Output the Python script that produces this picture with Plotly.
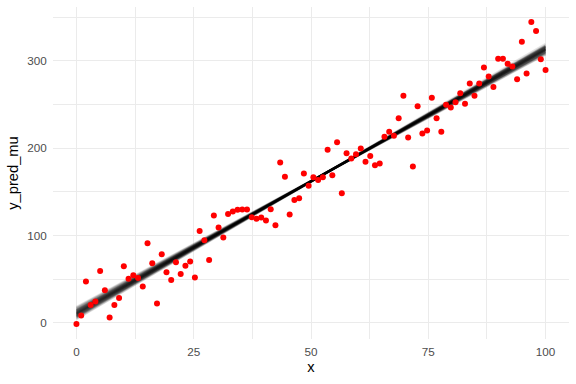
import plotly.graph_objects as go

# Observed data (x spaced evenly 0..100, 100 points)
x_vals = [0.0, 1.01, 2.02, 3.03, 4.04, 5.05, 6.06, 7.07, 8.08, 9.09,
          10.1, 11.11, 12.12, 13.13, 14.14, 15.15, 16.16, 17.17, 18.18, 19.19,
          20.2, 21.21, 22.22, 23.23, 24.24, 25.25, 26.26, 27.27, 28.28, 29.29,
          30.3, 31.31, 32.32, 33.33, 34.34, 35.35, 36.36, 37.37, 38.38, 39.39,
          40.4, 41.41, 42.42, 43.43, 44.44, 45.45, 46.46, 47.47, 48.48, 49.49,
          50.51, 51.52, 52.53, 53.54, 54.55, 55.56, 56.57, 57.58, 58.59, 59.6,
          60.61, 61.62, 62.63, 63.64, 64.65, 65.66, 66.67, 67.68, 68.69, 69.7,
          70.71, 71.72, 72.73, 73.74, 74.75, 75.76, 76.77, 77.78, 78.79, 79.8,
          80.81, 81.82, 82.83, 83.84, 84.85, 85.86, 86.87, 87.88, 88.89, 89.9,
          90.91, 91.92, 92.93, 93.94, 94.95, 95.96, 96.97, 97.98, 98.99, 100.0]
y_vals = [-1.1, 8.4, 47.3, 20.6, 24.4, 59.5, 37.4, 6.1, 20.6, 28.6,
          64.9, 50.7, 54.6, 51.5, 41.6, 91.2, 68.3, 22.1, 78.7, 58.0,
          49.2, 69.5, 56.1, 65.3, 70.2, 51.9, 105.3, 94.7, 72.1, 122.9,
          109.1, 97.7, 124.8, 127.5, 129.4, 129.8, 129.8, 121.0, 119.1, 120.6,
          117.2, 130.2, 111.9, 183.6, 167.2, 124.0, 140.8, 142.8, 171.0, 156.9,
          166.8, 163.7, 166.8, 198.1, 169.1, 206.9, 148.5, 194.3, 188.2, 193.2,
          199.6, 184.4, 191.2, 180.6, 182.4, 213.0, 218.7, 214.1, 234.4, 259.9,
          212.2, 179.0, 248.1, 216.8, 220.2, 257.6, 234.4, 218.7, 249.6, 246.5,
          252.7, 263.0, 250.8, 274.0, 259.9, 274.0, 292.3, 282.1, 269.9, 302.3,
          302.3, 296.6, 293.5, 279.0, 321.8, 285.5, 344.3, 334.2, 301.9, 289.4]

# Posterior draws of the regression line (intercept, slope)
intercepts = [11.2, 7.9, 14.6, 10.1, 13.0, 9.0, 16.2, 6.5, 12.0, 10.7,
              14.9, 5.8, 12.5, 9.6, 13.9, 7.4, 10.4, 17.3, 11.6, 8.5,
              13.4, 6.9, 15.6, 10.9, 11.1, 8.2, 14.2, 9.3, 12.2, 5.0,
              16.9, 10.3, 12.0, 7.7, 15.1, 8.8, 12.8, 10.6, 13.6, 6.7,
              18.2, 4.4, 11.4, 9.8, 14.0, 8.0]
slopes = [3.016, 3.08, 2.955, 3.04, 2.985, 3.055, 2.925, 3.10, 3.005, 3.025,
          2.945, 3.115, 2.995, 3.05, 2.965, 3.09, 3.03, 2.905, 3.01, 3.07,
          2.975, 3.10, 2.935, 3.025, 3.015, 3.075, 2.96, 3.05, 3.0, 3.13,
          2.91, 3.035, 3.0, 3.085, 2.945, 3.065, 2.99, 3.03, 2.97, 3.10,
          2.89, 3.15, 3.015, 3.04, 2.96, 3.075]

x_ticks = [0, 25, 50, 75, 100]
y_ticks = [0, 100, 200, 300]

fig = go.Figure()
x_lo, x_hi = min(x_vals), max(x_vals)
for a, b in zip(intercepts, slopes):
    fig.add_trace(go.Scatter(
        x=[x_lo, x_hi], y=[a + b * x_lo, a + b * x_hi],
        mode="lines", line=dict(color="black", width=2.2),
        opacity=0.1, showlegend=False, hoverinfo="skip"))

fig.add_trace(go.Scatter(
    x=x_vals, y=y_vals, mode="markers",
    marker=dict(color="#FF0000", size=6, line=dict(width=0)),
    showlegend=False))

font_fam = "Liberation Sans, Arial, sans-serif"
fig.update_layout(
    width=576, height=384,
    margin=dict(l=53, r=7, t=7, b=45),
    plot_bgcolor="white", paper_bgcolor="white",
    font=dict(family=font_fam, color="#4D4D4D", size=11.7),
    xaxis=dict(
        range=[-5, 105], tickvals=x_ticks, ticktext=[str(v) for v in x_ticks],
        showgrid=True, gridcolor="#EBEBEB", gridwidth=1.1, zeroline=False,
        showline=False, ticks="outside", ticklen=2, tickcolor="rgba(0,0,0,0)",
        tickfont=dict(size=11.7, color="#4D4D4D"),
        minor=dict(tickvals=[12.5, 37.5, 62.5, 87.5], showgrid=True,
                   gridcolor="#EBEBEB", gridwidth=0.55),
        title=dict(text="x", font=dict(size=14.7, color="black"), standoff=4),
    ),
    yaxis=dict(
        range=[-18.4, 361.6], tickvals=y_ticks, ticktext=[str(v) for v in y_ticks],
        showgrid=True, gridcolor="#EBEBEB", gridwidth=1.1, zeroline=False,
        showline=False, ticks="outside", ticklen=3, tickcolor="rgba(0,0,0,0)",
        tickfont=dict(size=11.7, color="#4D4D4D"),
        minor=dict(tickvals=[50, 150, 250, 350], showgrid=True,
                   gridcolor="#EBEBEB", gridwidth=0.55),
        title=dict(text="y_pred_mu", font=dict(size=14.7, color="black"), standoff=4),
    ),
)

fig.write_html("out.html")
